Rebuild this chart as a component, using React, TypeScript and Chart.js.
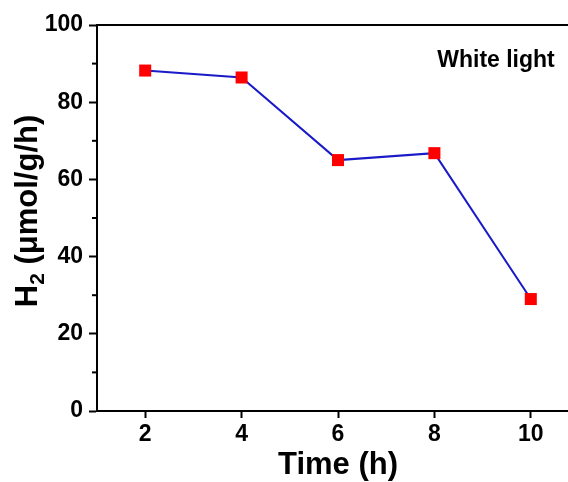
import React, { useEffect, useRef } from "react";
import { Chart, registerables } from "chart.js";

Chart.register(...registerables);

const times = [2, 4, 6, 8, 10];
const h2Rates = [88.2, 86.4, 65.0, 66.8, 29.0];
const xTicks = [2, 4, 6, 8, 10];
const yTicks = [0, 20, 40, 60, 80, 100];
const yMinorTicks = [10, 30, 50, 70, 90];
const xTitle = "Time (h)";
const yTitleParts = ["H", "2", " (μmol/g/h)"];
const legendText = "White light";

const FONT = "'Liberation Sans', Arial, Helvetica, sans-serif";

const decorPlugin = {
  id: "decor",
  afterDraw(chart: any) {
    const { ctx, chartArea, scales } = chart;
    const y = scales.y;
    ctx.save();
    ctx.strokeStyle = "#000";
    ctx.lineWidth = 2;
    // top and right border
    ctx.beginPath();
    ctx.moveTo(chartArea.left - 1, chartArea.top);
    ctx.lineTo(chartArea.right, chartArea.top);
    ctx.lineTo(chartArea.right, chartArea.bottom);
    ctx.stroke();
    // minor y ticks
    for (const v of yMinorTicks) {
      const py = y.getPixelForValue(v);
      ctx.beginPath();
      ctx.moveTo(chartArea.left - 5, py);
      ctx.lineTo(chartArea.left, py);
      ctx.stroke();
    }
    // legend text
    ctx.fillStyle = "#000";
    ctx.font = `bold 23px ${FONT}`;
    ctx.textAlign = "center";
    ctx.textBaseline = "alphabetic";
    ctx.fillText(legendText, 496, 67);
    // y title with subscript
    const big = `bold 31px ${FONT}`;
    const small = `bold 21px ${FONT}`;
    ctx.font = big;
    const w0 = ctx.measureText(yTitleParts[0]).width;
    const w2 = ctx.measureText(yTitleParts[2]).width;
    ctx.font = small;
    const w1 = ctx.measureText(yTitleParts[1]).width;
    const total = w0 + w1 + w2;
    const cy = (chartArea.top + chartArea.bottom) / 2 - 7;
    ctx.translate(37, cy);
    ctx.rotate(-Math.PI / 2);
    ctx.textAlign = "left";
    let x = -total / 2;
    ctx.font = big;
    ctx.fillText(yTitleParts[0], x, 0);
    x += w0;
    ctx.font = small;
    ctx.fillText(yTitleParts[1], x, 7);
    x += w1;
    ctx.font = big;
    ctx.fillText(yTitleParts[2], x, 0);
    ctx.restore();
  },
};

export default function App() {
  const ref = useRef<HTMLCanvasElement | null>(null);
  useEffect(() => {
    if (!ref.current) return;
    Chart.defaults.font.family = FONT;
    const chart = new Chart(ref.current, {
      type: "line",
      data: {
        datasets: [
          {
            data: times.map((t, i) => ({ x: t, y: h2Rates[i] })),
            borderColor: "#1a1ac8",
            borderWidth: 2,
            pointStyle: "rect",
            pointRadius: 8.5,
            pointBackgroundColor: "#ff0000",
            pointBorderColor: "#ff0000",
            pointBorderWidth: 0,
            tension: 0,
          },
        ],
      },
      options: {
        animation: false,
        responsive: false,
        devicePixelRatio: 1,
        layout: { padding: { top: 25, right: 11, left: 0, bottom: 0 } },
        plugins: { legend: { display: false }, tooltip: { enabled: false } },
        scales: {
          x: {
            type: "linear",
            min: 1,
            max: 11,
            afterBuildTicks: (s: any) => {
              s.ticks = xTicks.map((v) => ({ value: v }));
            },
            afterFit: (s: any) => {
              s.height = 71;
            },
            ticks: {
              color: "#000",
              font: { size: 23, weight: "bold" },
              padding: 3,
              callback: (v: any) => String(v),
            },
            grid: { drawOnChartArea: false, tickLength: 7, tickWidth: 2, color: "#000" },
            border: { width: 2, color: "#000" },
            title: {
              display: true,
              text: xTitle,
              color: "#000",
              font: { size: 31, weight: "bold", lineHeight: 1 },
              padding: { top: 0, bottom: 1 },
            },
          },
          y: {
            type: "linear",
            min: 0,
            max: 100,
            afterBuildTicks: (s: any) => {
              s.ticks = yTicks.map((v) => ({ value: v }));
            },
            afterFit: (s: any) => {
              s.width = 97;
            },
            ticks: {
              color: "#000",
              font: { size: 23, weight: "bold" },
              padding: 6,
              callback: (v: any) => String(v),
            },
            grid: { drawOnChartArea: false, tickLength: 8, tickWidth: 2, color: "#000" },
            border: { width: 2, color: "#000" },
          },
        },
      },
      plugins: [decorPlugin],
    } as any);
    return () => chart.destroy();
  }, []);
  return (
    <div
      style={{
        position: "fixed",
        left: 0,
        top: 0,
        width: 568,
        height: 482,
        overflow: "hidden",
        background: "#fff",
      }}
    >
      <canvas ref={ref} width={590} height={482} style={{ display: "block" }} />
    </div>
  );
}
